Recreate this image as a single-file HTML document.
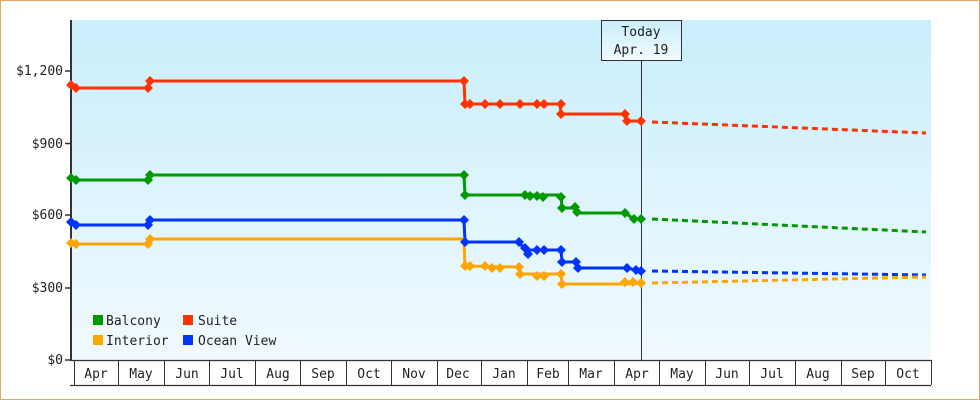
<!DOCTYPE html>
<html><head><meta charset="utf-8"><style>
body{margin:0;background:#fff}
svg{display:block}
text{font-family:"DejaVu Sans Mono","Liberation Mono",monospace;font-size:13px;fill:#222}
</style></head><body>
<svg width="980" height="400" viewBox="0 0 980 400" xmlns="http://www.w3.org/2000/svg">
<defs>
<linearGradient id="bg" x1="0" y1="0" x2="0" y2="1"><stop offset="0" stop-color="#c9eefc"/><stop offset="1" stop-color="#f1fafe"/></linearGradient>
<g id="d"><path d="M0,-5 L5,0 0,5 -5,0Z"/></g>
</defs>
<rect x="0.5" y="0.5" width="979" height="399" fill="#fff" stroke="#e8a860"/>
<rect x="72" y="20" width="859" height="340" fill="url(#bg)"/>
<line x1="71" y1="20" x2="71" y2="361" stroke="#333" stroke-width="2"/>
<g stroke="#333" stroke-width="1.5">
<line x1="65" y1="71" x2="71" y2="71"/><line x1="65" y1="143.5" x2="71" y2="143.5"/><line x1="65" y1="215" x2="71" y2="215"/><line x1="65" y1="288" x2="71" y2="288"/><line x1="65" y1="360" x2="71" y2="360"/>
</g>
<g text-anchor="end"><text x="63" y="75">$1,200</text><text x="63" y="148">$900</text><text x="63" y="219">$600</text><text x="63" y="292">$300</text><text x="63" y="364">$0</text></g>
<line x1="70" y1="385.5" x2="931" y2="385.5" stroke="#333" stroke-width="1.3"/>
<line x1="70" y1="360.5" x2="931" y2="360.5" stroke="#333" stroke-width="1.3"/>
<g stroke="#333" stroke-width="1">
<line x1="74.5" y1="360" x2="74.5" y2="385"/><line x1="118.5" y1="360" x2="118.5" y2="385"/><line x1="164.5" y1="360" x2="164.5" y2="385"/><line x1="209.5" y1="360" x2="209.5" y2="385"/><line x1="255.5" y1="360" x2="255.5" y2="385"/><line x1="300.5" y1="360" x2="300.5" y2="385"/><line x1="346.5" y1="360" x2="346.5" y2="385"/><line x1="391.5" y1="360" x2="391.5" y2="385"/><line x1="437.5" y1="360" x2="437.5" y2="385"/><line x1="481.5" y1="360" x2="481.5" y2="385"/><line x1="527.5" y1="360" x2="527.5" y2="385"/><line x1="568.5" y1="360" x2="568.5" y2="385"/><line x1="614.5" y1="360" x2="614.5" y2="385"/><line x1="659.5" y1="360" x2="659.5" y2="385"/><line x1="705.5" y1="360" x2="705.5" y2="385"/><line x1="749.5" y1="360" x2="749.5" y2="385"/><line x1="795.5" y1="360" x2="795.5" y2="385"/><line x1="841.5" y1="360" x2="841.5" y2="385"/><line x1="885.5" y1="360" x2="885.5" y2="385"/><line x1="931.5" y1="360" x2="931.5" y2="385"/>
</g>
<g text-anchor="middle">
<text x="96" y="378">Apr</text><text x="141" y="378">May</text><text x="187" y="378">Jun</text><text x="232" y="378">Jul</text><text x="278" y="378">Aug</text><text x="323" y="378">Sep</text><text x="369" y="378">Oct</text><text x="414" y="378">Nov</text><text x="458" y="378">Dec</text><text x="504" y="378">Jan</text><text x="548" y="378">Feb</text><text x="591" y="378">Mar</text><text x="637" y="378">Apr</text><text x="682" y="378">May</text><text x="727" y="378">Jun</text><text x="772" y="378">Jul</text><text x="818" y="378">Aug</text><text x="863" y="378">Sep</text><text x="908" y="378">Oct</text>
</g>
<line x1="641.5" y1="60" x2="641.5" y2="360" stroke="#333" stroke-width="1"/>
<rect x="601.5" y="20.5" width="80" height="40" fill="url(#bg)" stroke="#333"/>
<text x="641" y="36" text-anchor="middle">Today</text><text x="641" y="54" text-anchor="middle">Apr. 19</text>
<g fill="none" stroke-width="3">
<polyline stroke="#ff3300" points="71,85 76,88 148,88 150,81 464,81 465,104 560,104 561,114 625,114 626,121 641,121"/>
<polyline stroke="#009900" points="71,178 76,180 148,180 150,175 464,175 465,195 561,195 562,208 575,208 577,213 625,213 634,219 641,219"/>
<polyline stroke="#0033ff" points="71,222 76,225 148,225 150,220 464,220 465,242 519,242 525,250 561,250 562,262 576,262 578,268 627,268 641,271"/>
<polyline stroke="#ffa500" points="71,243 76,244 148,244 150,239 464,239 465,266 519,267 520,274 561,274 562,284 625,284 641,283"/>
<g stroke-dasharray="6,4">
<line stroke="#ff3300" x1="652" y1="122" x2="926" y2="133"/>
<line stroke="#009900" x1="652" y1="219" x2="926" y2="232"/>
<line stroke="#0033ff" x1="652" y1="271" x2="926" y2="275"/>
<line stroke="#ffa500" x1="652" y1="283" x2="926" y2="277"/>
</g></g>
<g fill="#ff3300"><use href="#d" x="71" y="85"/><use href="#d" x="76" y="88"/><use href="#d" x="148" y="88"/><use href="#d" x="150" y="81"/><use href="#d" x="464" y="81"/><use href="#d" x="465" y="104"/><use href="#d" x="470" y="104"/><use href="#d" x="485" y="104"/><use href="#d" x="500" y="104"/><use href="#d" x="520" y="104"/><use href="#d" x="537" y="104"/><use href="#d" x="544" y="104"/><use href="#d" x="561" y="104"/><use href="#d" x="561" y="114"/><use href="#d" x="625" y="114"/><use href="#d" x="627" y="121"/><use href="#d" x="641" y="121"/></g>
<g fill="#009900"><use href="#d" x="71" y="178"/><use href="#d" x="76" y="180"/><use href="#d" x="148" y="180"/><use href="#d" x="150" y="175"/><use href="#d" x="464" y="175"/><use href="#d" x="465" y="195"/><use href="#d" x="525" y="195"/><use href="#d" x="530" y="196"/><use href="#d" x="537" y="196"/><use href="#d" x="543" y="197"/><use href="#d" x="561" y="197"/><use href="#d" x="562" y="208"/><use href="#d" x="575" y="207"/><use href="#d" x="577" y="212"/><use href="#d" x="625" y="213"/><use href="#d" x="634" y="219"/><use href="#d" x="641" y="219"/></g>
<g fill="#0033ff"><use href="#d" x="71" y="222"/><use href="#d" x="76" y="225"/><use href="#d" x="148" y="225"/><use href="#d" x="150" y="220"/><use href="#d" x="464" y="220"/><use href="#d" x="465" y="242"/><use href="#d" x="519" y="242"/><use href="#d" x="525" y="248"/><use href="#d" x="528" y="254"/><use href="#d" x="537" y="250"/><use href="#d" x="544" y="250"/><use href="#d" x="561" y="250"/><use href="#d" x="562" y="262"/><use href="#d" x="576" y="262"/><use href="#d" x="578" y="268"/><use href="#d" x="627" y="268"/><use href="#d" x="636" y="270"/><use href="#d" x="641" y="271"/></g>
<g fill="#ffa500"><use href="#d" x="71" y="243"/><use href="#d" x="76" y="244"/><use href="#d" x="148" y="244"/><use href="#d" x="150" y="239"/><use href="#d" x="465" y="266"/><use href="#d" x="470" y="266"/><use href="#d" x="485" y="266"/><use href="#d" x="492" y="268"/><use href="#d" x="500" y="268"/><use href="#d" x="519" y="267"/><use href="#d" x="520" y="274"/><use href="#d" x="537" y="276"/><use href="#d" x="544" y="276"/><use href="#d" x="561" y="274"/><use href="#d" x="562" y="284"/><use href="#d" x="625" y="282"/><use href="#d" x="633" y="282"/><use href="#d" x="641" y="283"/></g>
<rect x="93" y="315" width="10" height="10" fill="#009900"/><text x="106" y="325">Balcony</text>
<rect x="183" y="315" width="10" height="10" fill="#ff3300"/><text x="198" y="325">Suite</text>
<rect x="93" y="335" width="10" height="10" fill="#ffa500"/><text x="106" y="345">Interior</text>
<rect x="183" y="335" width="10" height="10" fill="#0033ff"/><text x="198" y="345">Ocean View</text>
</svg>
</body></html>
